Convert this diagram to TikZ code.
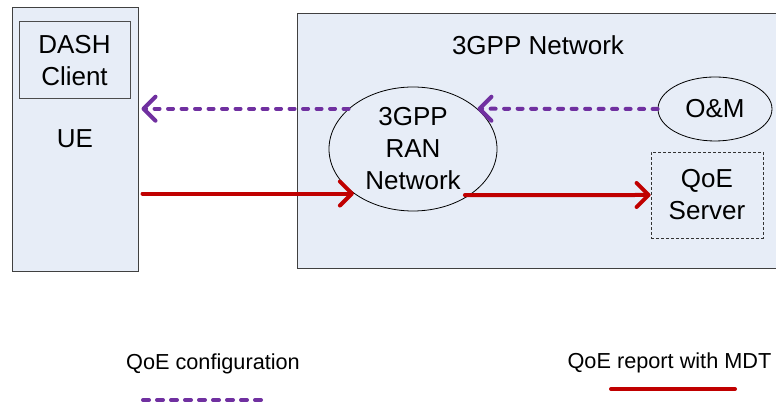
\documentclass[tikz,border=0pt]{standalone}
\usepackage{fontspec}
\setmainfont{Liberation Sans}
\usetikzlibrary{arrows.meta,shapes.geometric}
\definecolor{boxfill}{HTML}{E7EDF7}
\definecolor{cfgpurple}{HTML}{7030A0}
\definecolor{rptred}{HTML}{C00000}
\begin{document}
\begin{tikzpicture}[x=1pt,y=1pt,
 maintext/.style={font=\fontsize{26}{32}\selectfont, align=center},
 legtext/.style={font=\fontsize{21.7}{26}\selectfont},
 region/.style={draw=black!75, fill=boxfill, line width=1pt, inner sep=0pt},
 cfgline/.style={draw=cfgpurple, line width=4pt, line cap=round, dash pattern=on 5pt off 8.5pt},
 legcfg/.style={draw=cfgpurple, line width=4pt, line cap=round, dash pattern=on 6pt off 8pt},
 rptline/.style={draw=rptred, line width=4pt, line cap=round},
 tipped/.style={-{Straight Barb[length=12pt,width=24pt,round]}},
 ellnode/.style={draw, ellipse, line width=0.8pt, inner sep=0pt, maintext}
]
\useasboundingbox (0,0) rectangle (776,403);
% UE
\node[region, minimum width=126pt, minimum height=264pt] (ue) at (75,263) {};
\node[draw=black!70, line width=1pt, minimum width=111pt, minimum height=77pt, maintext] (dash) at (74.5,342.5) {DASH\\Client};
\node[maintext] (uelabel) at (75,264) {UE};
% 3GPP network
\node[region, minimum width=493pt, minimum height=255pt] (net) at (543.5,261.5) {};
\node[maintext] (netlabel) at (538,358) {3GPP Network};
\node[ellnode, minimum width=168pt, minimum height=124pt] (ran) at (413,254) {3GPP\\RAN\\Network};
\node[ellnode, minimum width=114pt, minimum height=64pt] (om) at (715,294) {O\&M};
\node[draw=black!80, line width=0.8pt, dash pattern=on 3pt off 2pt, minimum width=112pt, minimum height=86pt, maintext] (qoe) at (707,208) {QoE\\Server};
% connectors
\coordinate (uetip) at ([xshift=3pt]ue.east);
\coordinate (uestart) at ([xshift=4pt]ue.east);
\draw[cfgline, tipped] (om.west) -- (ran.32);
\draw[cfgline, tipped] (ran.148) -- (uetip |- ran.148);
\draw[rptline, tipped] (uestart |- ran.217) -- (ran.217);
\draw[rptline, tipped, shorten <=-5pt] (ran.-39) -- (qoe.west);
% legend
\node[legtext] (cfglabel) at (213,39) {QoE configuration};
\node[legtext] (rptlabel) at (669.5,40) {QoE report with MDT};
\coordinate (cfgA) at (143,3);
\coordinate (cfgB) at (261,3);
\coordinate (rptA) at (611,14);
\coordinate (rptB) at (735,14);
\draw[legcfg] (cfgA) -- (cfgB);
\draw[rptline] (rptA) -- (rptB);
\end{tikzpicture}
\end{document}
